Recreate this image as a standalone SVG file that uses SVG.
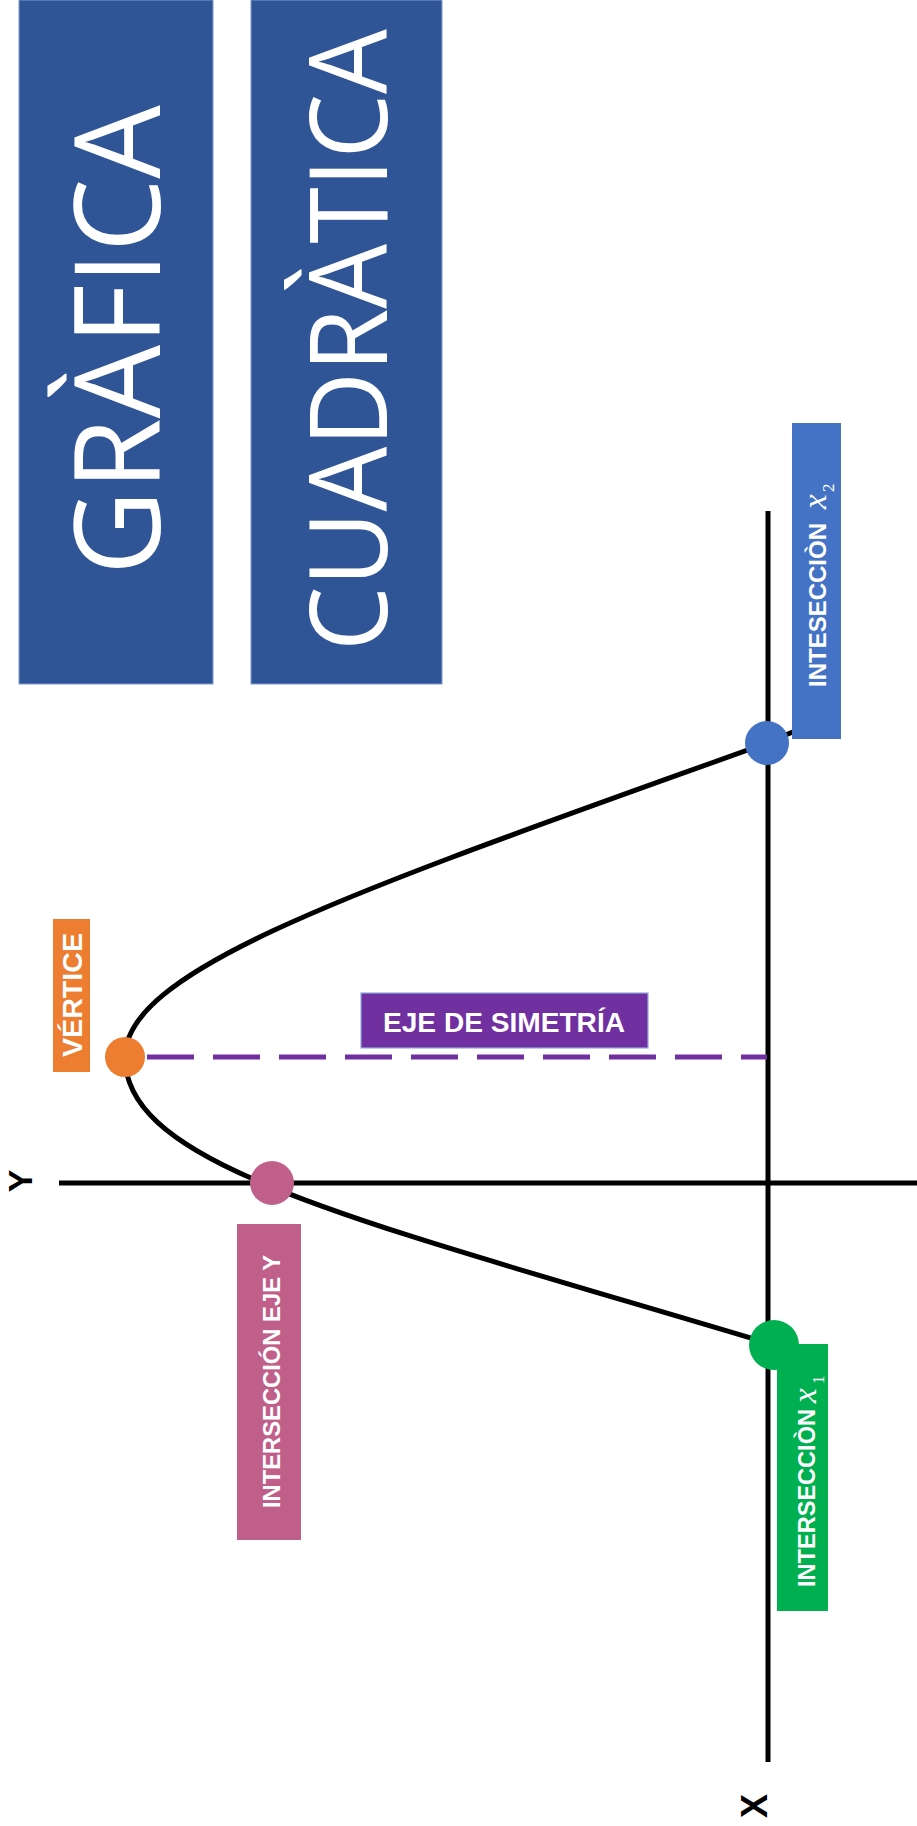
<svg xmlns="http://www.w3.org/2000/svg" width="917" height="1826" viewBox="0 0 917 1826">
<style>
.title{fill:#FFFFFF;font-family:"Open Sans","Liberation Sans",sans-serif;font-weight:400;}
.lbl{fill:#FFFFFF;font-family:"Liberation Sans",Arial,sans-serif;font-weight:bold;}
.mx{fill:#FFFFFF;font-family:"Liberation Serif","Times New Roman",serif;font-style:italic;}
.sub{fill:#FFFFFF;font-family:"Liberation Serif","Times New Roman",serif;}
.axis{fill:#000000;font-family:"Liberation Sans",Arial,sans-serif;font-weight:bold;}
.ln{stroke:#000000;stroke-width:5;fill:none;}
</style>
<rect width="917" height="1826" fill="#FFFFFF"/>
<g id="title-grafica">
<rect x="19" y="0" width="194" height="684" fill="#2F5597" stroke="#7F9CD0" stroke-width="1"/>
<text class="title" transform="translate(160,340) rotate(-90)" text-anchor="middle" font-size="119" textLength="470" lengthAdjust="spacingAndGlyphs">GRÀFICA</text>
</g>
<g id="title-cuadratica">
<rect x="251" y="0" width="191" height="684" fill="#2F5597" stroke="#7F9CD0" stroke-width="1"/>
<text class="title" transform="translate(387,340) rotate(-90)" text-anchor="middle" font-size="108" textLength="622" lengthAdjust="spacingAndGlyphs">CUADRÀTICA</text>
</g>
<g id="connectors">
<line class="ln" x1="768" y1="511" x2="768" y2="1762"/>
<line class="ln" x1="59" y1="1183" x2="917" y2="1183"/>
<path class="ln" stroke-width="6" d="M795,731 L767,743 C367,887 125,967 125,1057"/>
<path class="ln" stroke-width="6" d="M125,1057 C125,1167 354,1219 774,1345"/>
<line x1="147" y1="1057" x2="767" y2="1057" stroke="#7030A0" stroke-width="5" stroke-dasharray="47 19"/>
</g>
<g id="label-y-axis">
<text class="axis" transform="translate(32,1181) rotate(-90)" text-anchor="middle" font-size="34">Y</text>
</g>
<g id="label-x-axis">
<text class="axis" transform="translate(767,1806) rotate(-90)" text-anchor="middle" font-size="36">X</text>
</g>
<g id="vertice">
<rect x="53" y="919" width="37" height="153" fill="#ED7D31"/>
<text class="lbl" transform="translate(82,995) rotate(-90)" text-anchor="middle" font-size="28" textLength="124" lengthAdjust="spacingAndGlyphs">VÉRTICE</text>
<circle cx="125" cy="1057" r="20" fill="#ED7D31"/>
</g>
<g id="eje-simetria">
<rect x="361" y="993" width="287" height="55" fill="#7030A0" stroke="#8FAADC" stroke-width="1.2"/>
<text class="lbl" x="504" y="1032" text-anchor="middle" font-size="28" textLength="242" lengthAdjust="spacingAndGlyphs">EJE DE SIMETRÍA</text>
</g>
<g id="interseccion-eje-y">
<rect x="237" y="1224" width="64" height="316" fill="#C0608A"/>
<text class="lbl" transform="translate(280,1381.5) rotate(-90)" text-anchor="middle" font-size="24" textLength="253" lengthAdjust="spacingAndGlyphs">INTERSECCIÓN EJE Y</text>
<circle cx="272" cy="1183" r="22" fill="#C0608A"/>
</g>
<g id="interseccion-x2">
<rect x="792" y="423" width="49" height="316" fill="#4472C4"/>
<text class="lbl" transform="translate(826,687) rotate(-90)" font-size="24" textLength="164" lengthAdjust="spacingAndGlyphs">INTESECCIÒN</text>
<text class="mx" transform="translate(826,509) rotate(-90)" font-size="33">x</text>
<text class="sub" transform="translate(834,492) rotate(-90)" font-size="17">2</text>
<circle cx="767" cy="743" r="22" fill="#4472C4"/>
</g>
<g id="interseccion-x1">
<rect x="777" y="1344" width="51" height="267" fill="#00B050"/>
<text class="lbl" transform="translate(815,1587) rotate(-90)" font-size="24" textLength="178" lengthAdjust="spacingAndGlyphs">INTERSECCIÒN</text>
<text class="mx" transform="translate(816,1403) rotate(-90)" font-size="33">x</text>
<text class="sub" transform="translate(824,1384) rotate(-90)" font-size="17">1</text>
<circle cx="774" cy="1345" r="25" fill="#00B050"/>
</g>
</svg>
